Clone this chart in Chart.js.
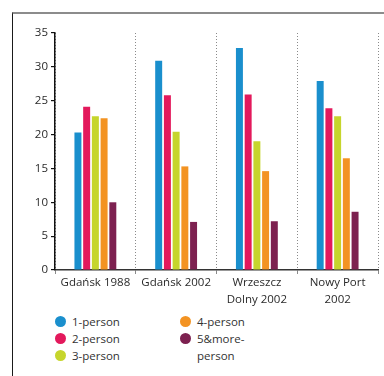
<!DOCTYPE html>
<html>
<head>
<meta charset="utf-8">
<script src="https://cdn.jsdelivr.net/npm/chart.js@4/dist/chart.umd.min.js"></script>
<style>
    html, body { margin: 0; padding: 0; background: #fff; }
    body { width: 384px; height: 376px; position: relative; overflow: hidden; font-family: "Open Sans", sans-serif; }
    #frame { position: absolute; left: 12px; top: 12px; width: 372px; height: 364px;
             border-top: 2px solid #8c8c8c; border-left: 1px solid #1a1a1a; }
    #wrap { position: absolute; left: 0; top: 0; width: 384px; height: 310px; }
    #legend { position: absolute; left: 55px; top: 313px; display: flex; font-size: 11.5px; color: #333; }
    #legend .col { display: flex; flex-direction: column; }
    #legend .item { display: flex; align-items: flex-start; line-height: 17px; }
    #legend .dot { width: 11px; height: 11px; border-radius: 50%; margin: 3px 6px 0 0; flex: none; }
    #legend .txt { width: 100px; }
    #legend .col:last-child .txt { width: 60px; }
</style>
</head>
<body>
<div id="frame"></div>
<div id="wrap"><canvas id="myChart"></canvas></div>
<div id="legend"></div>
<script>
var places = ["Gdańsk 1988", "Gdańsk 2002", ["Wrzeszcz", "Dolny 2002"], ["Nowy Port", "2002"]];
var yTicks = [0, 5, 10, 15, 20, 25, 30, 35];

var onePerson = [20.3, 30.9, 32.8, 27.9];
var twoPerson = [24.1, 25.8, 25.9, 23.9];
var threePerson = [22.7, 20.4, 19.0, 22.7];
var fourPerson = [22.4, 15.3, 14.6, 16.5];
var fivePerson = [10.0, 7.1, 7.2, 8.6];

var seriesNames = ["1-person", "2-person", "3-person", "4-person", "5&more-person"];
var seriesColors = ["#1a8fcd", "#e3195c", "#c6d52c", "#f39322", "#7d2150"];

function init() {
    var series = [onePerson, twoPerson, threePerson, fourPerson, fivePerson];
    var datasets = series.map(function (values, i) {
        return {
            label: seriesNames[i],
            data: values,
            backgroundColor: seriesColors[i],
            borderWidth: 0,
            barPercentage: 0.8,
            categoryPercentage: 0.54
        };
    });

    var ctx = document.getElementById("myChart");
    var chart = new Chart(ctx, {
        type: 'bar',
        data: { labels: places, datasets: datasets },
        options: {
            responsive: true,
            maintainAspectRatio: false,
            animation: false,
            layout: { padding: { left: 0, right: 6, top: 33, bottom: 0 } },
            plugins: {
                legend: { display: false },
                tooltip: { enabled: false }
            },
            scales: {
                x: {
                    grid: {
                        color: "#8a8a8a",
                        lineWidth: 1,
                        tickLength: 4,
                        offset: true
                    },
                    // dash here is used by the category separators
                    border: { color: "#333", width: 1.5, dash: [1, 2] },
                    ticks: {
                        color: "#2a2a2a",
                        font: { family: "Open Sans", size: 11.5, lineHeight: 1.5 },
                        padding: 0,
                        maxRotation: 0,
                        autoSkip: false
                    },
                    afterFit: function (scale) { scale.height = 40; }
                },
                y: {
                    min: 0,
                    max: 35,
                    afterBuildTicks: function (scale) {
                        scale.ticks = yTicks.map(function (v) { return { value: v }; });
                    },
                    grid: {
                        drawOnChartArea: false,
                        color: "#111",
                        lineWidth: 1.2,
                        tickLength: 4
                    },
                    border: { color: "#111", width: 1.5 },
                    ticks: {
                        color: "#2a2a2a",
                        font: { family: "Open Sans", size: 11.5 },
                        padding: 3
                    },
                    afterFit: function (scale) { scale.width = 55; }
                }
            }
        }
    });

    buildLegend(chart);
}

function buildLegend(chart) {
    var box = document.getElementById("legend");
    var cols = [[0, 1, 2], [3, 4]];
    cols.forEach(function (idx, c) {
        var col = document.createElement("div");
        col.className = "col";
        col.style.width = c === 0 ? "125px" : "80px";
        idx.forEach(function (i) {
            var ds = chart.data.datasets[i];
            var item = document.createElement("div");
            item.className = "item";
            var dot = document.createElement("span");
            dot.className = "dot";
            dot.style.background = ds.backgroundColor;
            var txt = document.createElement("span");
            txt.className = "txt";
            txt.textContent = ds.label;
            item.appendChild(dot);
            item.appendChild(txt);
            col.appendChild(item);
        });
        box.appendChild(col);
    });
}

init();
</script>
</body>
</html>
